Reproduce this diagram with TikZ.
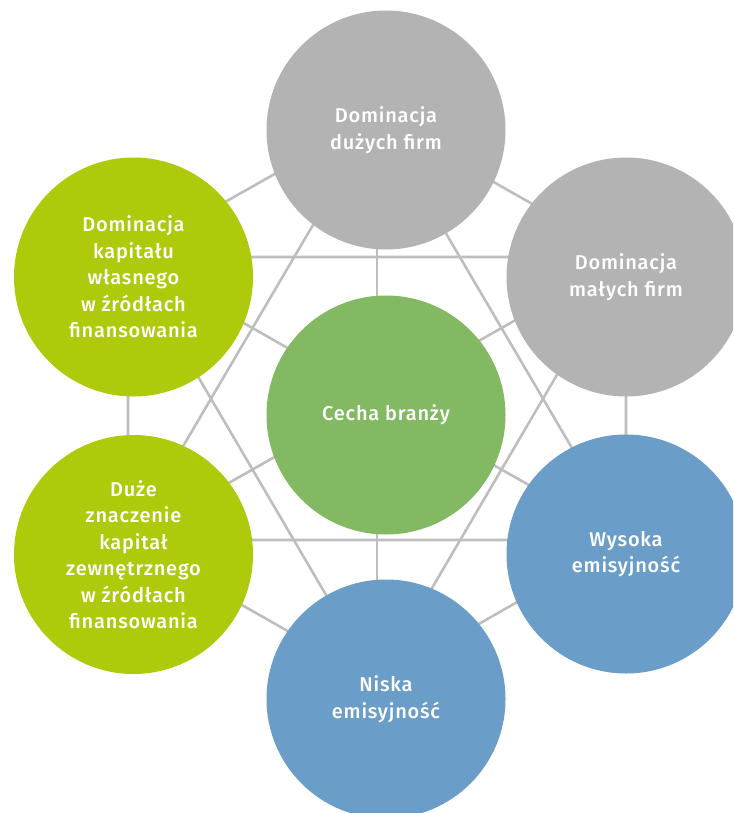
\documentclass[tikz,border=0pt]{standalone}
\usepackage{fontspec}
\setmainfont{Fira Sans}[BoldFont={Fira Sans Medium}, LetterSpace=4]

\definecolor{firmgrey}{HTML}{B3B3B3}
\definecolor{capitallime}{HTML}{AFCA0B}
\definecolor{branchgreen}{HTML}{82B962}
\definecolor{emissionblue}{HTML}{6A9DC8}
\definecolor{netgrey}{HTML}{BEBEBE}

\begin{document}
\begin{tikzpicture}[
  x=1pt, y=-1pt,
  every node/.style={font=\fontsize{20}{26.5}\selectfont\bfseries, text=white, align=center},
  disc/.style={circle, minimum size=239pt, inner sep=0pt},
  net/.style={draw=netgrey, line width=2.6pt},
]
\useasboundingbox (0,0) rectangle (733,813);
\clip (0,0) rectangle (733,813);

% --- Star network behind the discs ------------------------------
\coordinate (hub) at (377,399);
\coordinate (vT)  at (377,116);
\coordinate (vTR) at (626,257);
\coordinate (vBR) at (626,540);
\coordinate (vB)  at (377,682);
\coordinate (vBL) at (128,540);
\coordinate (vTL) at (128,257);

% hexagon
\draw[net] (vTL) -- (vT) -- (vTR) -- (vBR) -- (vB) -- (vBL) -- cycle;
% two triangles
\draw[net] (vT) -- (vBL) -- (vBR) -- cycle;
\draw[net] (vB) -- (vTL) -- (vTR) -- cycle;
% spokes
\foreach \v in {vT,vTR,vBR,vB,vBL,vTL}
  \draw[net] (hub) -- (\v);

% --- Discs -------------------------------------------------------
\node[disc, fill=firmgrey] (duze) at (386,130) {Dominacja\\dużych firm};
\node[disc, fill=firmgrey] (male) at (626,277) {Dominacja\\małych firm};
\node[disc, fill=emissionblue] (wysoka) at (626,554) {Wysoka\\emisyjność};
\node[disc, fill=emissionblue] (niska) at (386,699) {Niska\\emisyjność};
\node[disc, fill=capitallime] (zewn) at (133.5,554.5)
  {Duże\\znaczenie\\kapitał\\zewnętrznego\\w źródłach\\finansowania};
\node[disc, fill=capitallime] (wlasny) at (133.5,277)
  {Dominacja\\kapitału\\własnego\\w źródłach\\finansowania};
\node[disc, fill=branchgreen] (cecha) at (386,415) {Cecha branży};

\end{tikzpicture}
\end{document}
